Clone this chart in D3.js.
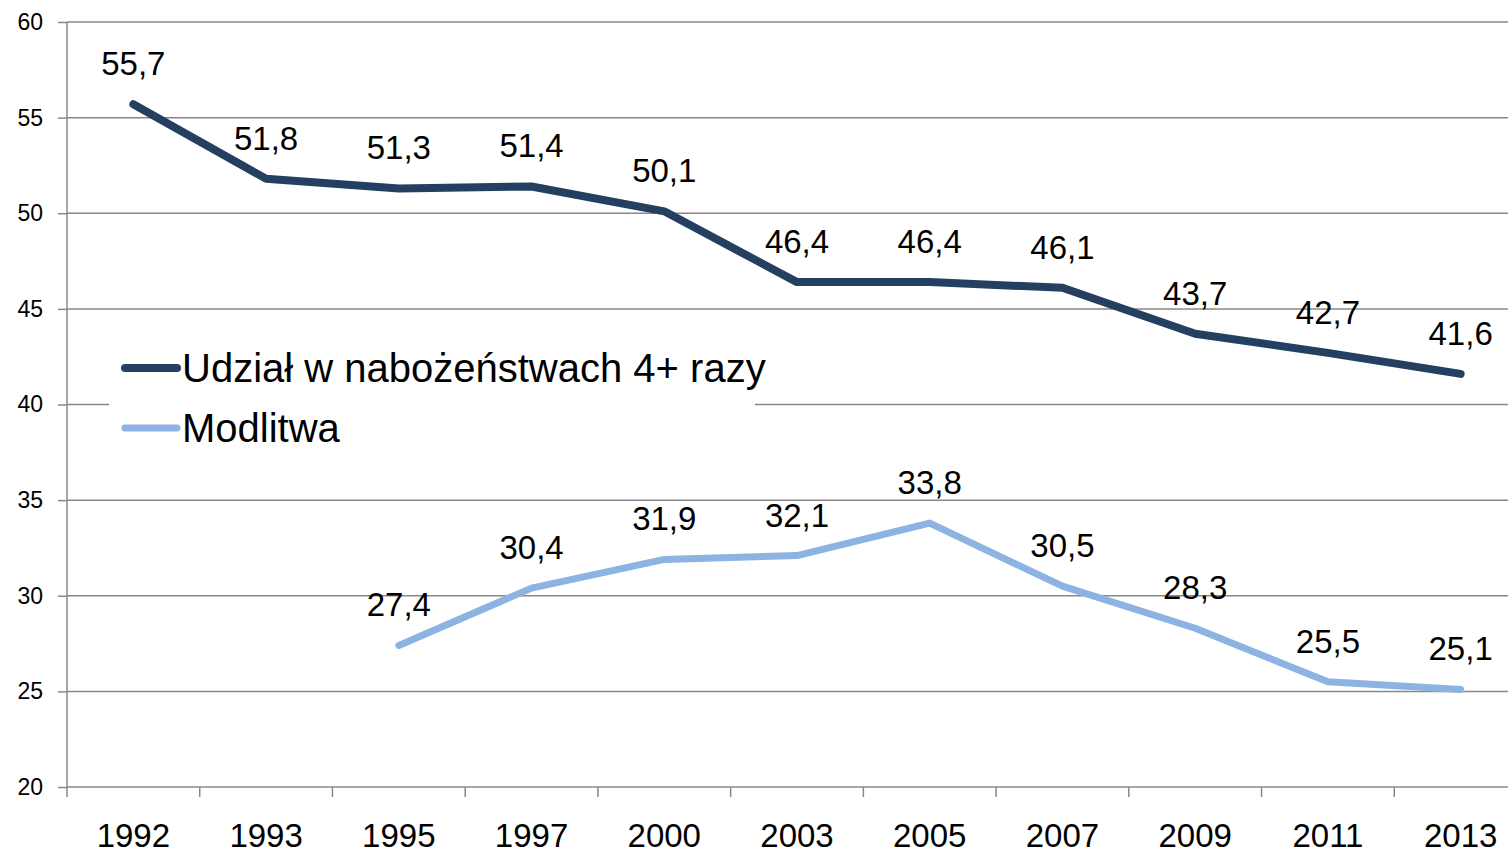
<!DOCTYPE html>
<html lang="pl">
<head>
  <meta charset="UTF-8">
  <title>Udział w nabożeństwach i modlitwa</title>
  <script src="https://d3js.org/d3.v7.min.js"></script>
  <style>
    * { margin: 0; padding: 0; box-sizing: border-box; }
    body { background: #fff; overflow: hidden; }
    svg { display: block; font-family: 'Liberation Sans Narrow', 'Arial Narrow', 'Liberation Sans', sans-serif; }
  </style>
</head>
<body>
  <div id="chart"></div>
  <script>
    // Data
    const years = ["1992", "1993", "1995", "1997", "2000", "2003", "2005", "2007", "2009", "2011", "2013"];
    const services = [55.7, 51.8, 51.3, 51.4, 50.1, 46.4, 46.4, 46.1, 43.7, 42.7, 41.6];
    const prayer = [null, null, 27.4, 30.4, 31.9, 32.1, 33.8, 30.5, 28.3, 25.5, 25.1];
    const yTicks = [20, 25, 30, 35, 40, 45, 50, 55, 60];

    const seriesList = [
      { name: "Udział w nabożeństwach 4+ razy", values: services, color: "#243F60", width: 8 },
      { name: "Modlitwa", values: prayer, color: "#8DB3E2", width: 7 }
    ];

    const width = 1508, height = 854;
    const margin = { top: 22, right: -19, bottom: 67, left: 67 };

    const svg = d3.select("#chart").append("svg")
      .attr("width", width)
      .attr("height", height);

    const x = d3.scaleBand()
      .domain(years)
      .range([margin.left, width - margin.right])
      .padding(0);

    const y = d3.scaleLinear()
      .domain([20, 60])
      .range([height - margin.bottom, margin.top]);

    const fmt = v => v.toFixed(1).replace(".", ",");

    // gridlines
    svg.append("g")
      .selectAll("line")
      .data(yTicks.filter(d => d > 20))
      .join("line")
      .attr("x1", margin.left).attr("x2", width)
      .attr("y1", d => y(d)).attr("y2", d => y(d))
      .attr("stroke", "#888").attr("stroke-width", 1.5);

    // y axis
    const yAxis = svg.append("g")
      .attr("transform", `translate(${margin.left},0)`)
      .call(d3.axisLeft(y).tickValues(yTicks).tickSize(9).tickPadding(15));
    yAxis.selectAll("line, path").attr("stroke", "#888").attr("stroke-width", 1.5);
    yAxis.select(".domain").attr("d", `M0,${y(20)}V${y(60)}`);
    yAxis.selectAll("text").attr("font-size", 23).attr("fill", "#000")
      .style("font-family", "inherit");

    // x axis with ticks at the band edges
    const xAxisG = svg.append("g")
      .attr("transform", `translate(0,${y(20)})`);
    xAxisG.append("line")
      .attr("x1", margin.left).attr("x2", width)
      .attr("stroke", "#888").attr("stroke-width", 1.5);
    xAxisG.selectAll(".edge")
      .data(years)
      .join("line")
      .attr("class", "edge")
      .attr("x1", d => x(d)).attr("x2", d => x(d))
      .attr("y1", 0).attr("y2", 10)
      .attr("stroke", "#888").attr("stroke-width", 1.5);
    xAxisG.selectAll("text")
      .data(years)
      .join("text")
      .attr("x", d => x(d) + x.bandwidth() / 2)
      .attr("y", 60)
      .attr("text-anchor", "middle")
      .attr("font-size", 33)
      .text(d => d);

    // legend box (covers gridline)
    const legend = svg.append("g");
    legend.append("rect")
      .attr("x", 109).attr("y", 335)
      .attr("width", 646).attr("height", 122)
      .attr("fill", "#fff");

    const line = d3.line()
      .defined(d => d != null)
      .x((d, i) => x(years[i]) + x.bandwidth() / 2)
      .y(d => y(d));

    seriesList.forEach((s, k) => {
      svg.append("path")
        .datum(s.values)
        .attr("fill", "none")
        .attr("stroke", s.color)
        .attr("stroke-width", s.width)
        .attr("stroke-linecap", "round")
        .attr("stroke-linejoin", "round")
        .attr("d", line);

      svg.append("g")
        .selectAll("text")
        .data(s.values.map((v, i) => ({ v, year: years[i] })).filter(d => d.v != null))
        .join("text")
        .attr("x", d => x(d.year) + x.bandwidth() / 2)
        .attr("y", d => y(d.v) - 29)
        .attr("text-anchor", "middle")
        .attr("font-size", 33)
        .text(d => fmt(d.v));

      const ly = 368 + k * 60;
      legend.append("line")
        .attr("x1", 125).attr("x2", 177)
        .attr("y1", ly).attr("y2", ly)
        .attr("stroke", s.color)
        .attr("stroke-width", s.width)
        .attr("stroke-linecap", "round");
      legend.append("text")
        .attr("x", 182).attr("y", ly + 14)
        .attr("font-size", 40)
        .text(s.name);
    });
  </script>
</body>
</html>
